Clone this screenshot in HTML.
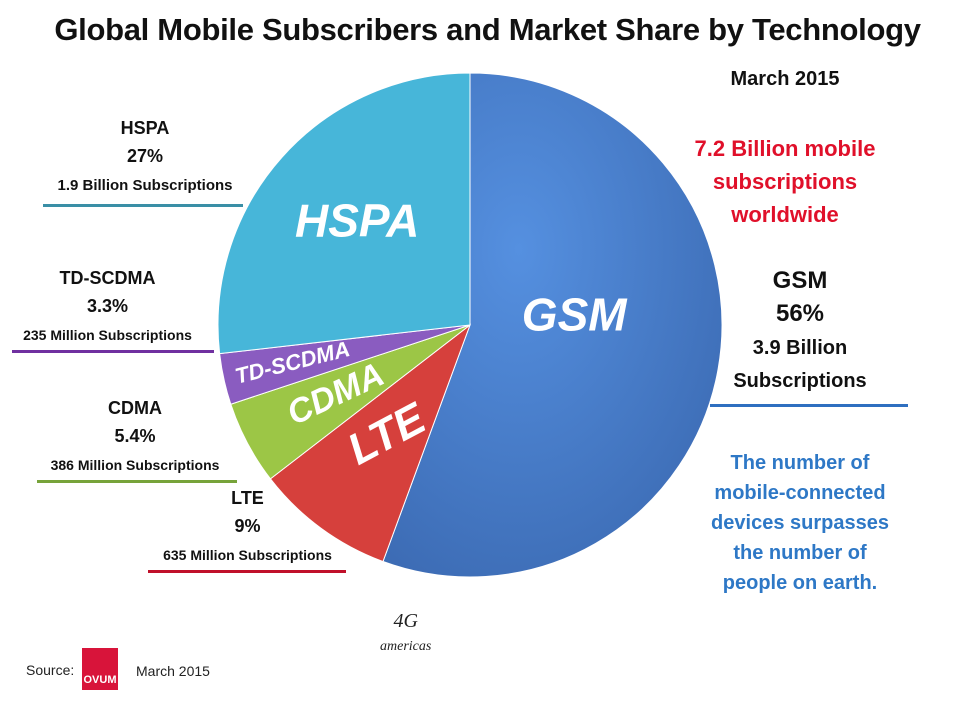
<!DOCTYPE html>
<html><head><meta charset="utf-8"><style>
body{margin:0;background:#fff;width:975px;height:696px;overflow:hidden;font-family:"Liberation Sans",sans-serif}
.t{position:absolute;font-weight:bold;text-align:center;white-space:nowrap}
.ln{position:absolute;height:3px}
</style></head><body>
<div class="t" style="left:0;width:975px;top:12px;font-size:31px;color:#111;letter-spacing:-0.3px">Global Mobile Subscribers and Market Share by Technology</div>
<div class="t" style="left:700px;width:170px;top:68px;font-size:20px;color:#111">March 2015</div>
<div class="t" style="left:655px;width:260px;top:132px;font-size:22px;line-height:33px;color:#e0102a">7.2 Billion mobile<br>subscriptions<br>worldwide</div>
<div class="t" style="left:700px;width:200px;top:264px;font-size:24px;line-height:33px;color:#111">GSM<br>56%<br><span style="font-size:20px;line-height:28px">3.9 Billion<br>Subscriptions</span></div>
<div class="ln" style="left:710px;width:198px;top:404px;background:#2f6fc0"></div>
<div class="t" style="left:680px;width:240px;top:448px;font-size:20px;line-height:30px;color:#2e78c6">The number of<br>mobile-connected<br>devices surpasses<br>the number of<br>people on earth.</div>
<div class="t" style="left:30px;width:230px;top:114px;font-size:18px;line-height:28px;color:#111">HSPA<br>27%<br><span style="font-size:15px">1.9 Billion Subscriptions</span></div>
<div class="ln" style="left:43px;width:200px;top:204px;background:#3a8fa6"></div>
<div class="t" style="left:0;width:215px;top:264px;font-size:18px;line-height:28px;color:#111">TD-SCDMA<br>3.3%<br><span style="font-size:14px">235 Million Subscriptions</span></div>
<div class="ln" style="left:12px;width:202px;top:350px;background:#7030a0"></div>
<div class="t" style="left:25px;width:220px;top:394px;font-size:18px;line-height:28px;color:#111">CDMA<br>5.4%<br><span style="font-size:14px">386 Million Subscriptions</span></div>
<div class="ln" style="left:37px;width:200px;top:480px;background:#77a33a"></div>
<div class="t" style="left:145px;width:205px;top:484px;font-size:18px;line-height:28px;color:#111">LTE<br>9%<br><span style="font-size:14px">635 Million Subscriptions</span></div>
<div class="ln" style="left:148px;width:198px;top:570px;background:#c0102a"></div>
<svg id="pie" width="975" height="696" style="position:absolute;left:0;top:0">
<defs>
<radialGradient id="gg" cx="0.4" cy="0.35" r="0.8"><stop offset="0" stop-color="#5590e0"/><stop offset="1" stop-color="#3a68b0"/></radialGradient>
</defs>
<g id="slices"></g><g id="plabels"></g>
</svg>
<div class="t" style="left:26px;top:662px;font-size:14px;font-weight:normal;color:#222">Source:</div>
<div style="position:absolute;left:82px;top:648px;width:36px;height:42px;background:#d8143a;color:#fff;font:bold 11px 'Liberation Sans',sans-serif;text-align:center;line-height:64px">OVUM</div>
<div class="t" style="left:136px;top:663px;font-size:14px;font-weight:normal;color:#222">March 2015</div>
<div class="t" style="left:380px;top:610px;font:italic 20px 'Liberation Serif',serif;color:#222">4G<br><span style="font-size:14px">americas</span></div>
<script>
const categories=["GSM","LTE","CDMA","TD-SCDMA","HSPA"];
const shares=[56,9,5.4,3.3,27];
const colors=["url(#gg)","#d6403c","#9cc646","#8a5cc0","#47b6d9"];
const cx=470,cy=325,r=252;
const total=shares.reduce((a,b)=>a+b,0);
const ns="http://www.w3.org/2000/svg";
const g=document.getElementById('slices'),lg=document.getElementById('plabels');
function pt(a,rr){return [cx+rr*Math.sin(a),cy-rr*Math.cos(a)];}
let a0=0;
const lsize=[46,44,34,22,46];
const lrot=[0,-28,-25,-14,0];
const lrad=[0.42,0.55,0.6,0.72,0.6];
const loff=[-10,0,0,0,0];
shares.forEach((v,i)=>{
 const a1=a0+v/total*2*Math.PI;
 const p0=pt(a0,r),p1=pt(a1,r);
 const p=document.createElementNS(ns,'path');
 p.setAttribute('d',`M${cx},${cy}L${p0[0]},${p0[1]}A${r},${r} 0 ${a1-a0>Math.PI?1:0} 1 ${p1[0]},${p1[1]}Z`);
 p.setAttribute('fill',colors[i]);p.setAttribute('stroke','#fff');p.setAttribute('stroke-width','1');
 
 
 g.appendChild(p);
 const m=(a0+a1)/2;const q=pt(m,r*lrad[i]);
 const t=document.createElementNS(ns,'text');
 t.setAttribute('x',q[0]);t.setAttribute('y',q[1]+(i==0?-25:0));t.setAttribute('text-anchor','middle');t.setAttribute('dominant-baseline','middle');
 t.setAttribute('fill','#fff');t.setAttribute('font-weight','bold');t.setAttribute('font-style','italic');
 t.setAttribute('font-family','Liberation Sans, sans-serif');t.setAttribute('font-size',lsize[i]);
 if(lrot[i])t.setAttribute('transform',`rotate(${lrot[i]} ${q[0]} ${q[1]})`);
 t.textContent=categories[i];
 
 
 lg.appendChild(t);
 a0=a1;
});
</script>
</body></html>
